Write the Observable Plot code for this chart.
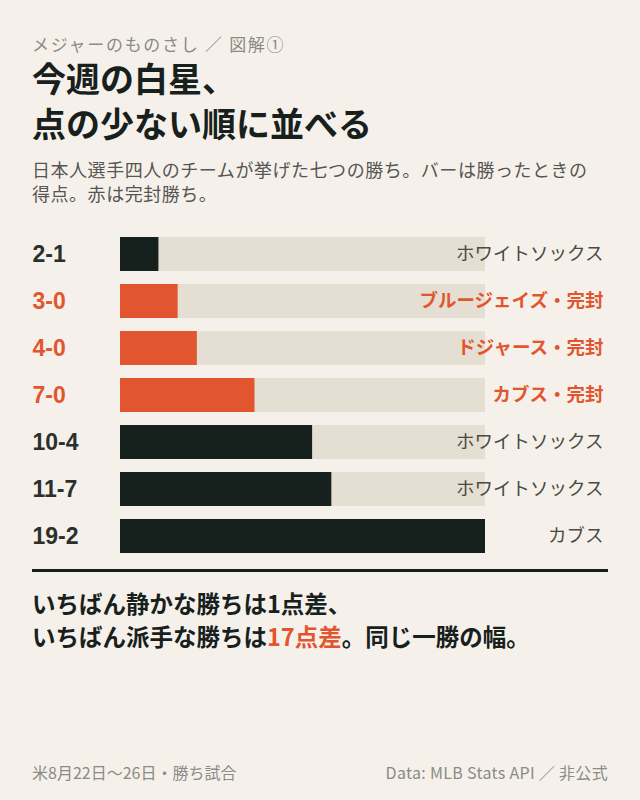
<!DOCTYPE html>
<html><head><meta charset="utf-8">
<script src="https://cdn.jsdelivr.net/npm/d3@7"></script>
<script src="https://cdn.jsdelivr.net/npm/@observablehq/plot@0.6"></script>
<style>
html,body{margin:0;padding:0;background:#f5f1ea;}
#page{position:relative;width:640px;height:800px;background:#f5f1ea;font-family:"Noto Sans CJK JP","Noto Sans",sans-serif;overflow:hidden;}
.abs{position:absolute;left:32px;white-space:nowrap;}
#eyebrow{top:34px;font-size:17px;line-height:20px;color:#8a8a86;letter-spacing:0.1em;}
#title{top:55px;font-size:34px;line-height:45px;font-weight:700;color:#17201c;}
#sub{top:157px;font-size:18px;line-height:24px;color:#555;letter-spacing:0.03em;}
#chart{position:absolute;left:0;top:235px;}
#rule{position:absolute;left:32px;width:576px;top:569px;height:3px;background:#17201c;}
#note{top:587px;font-size:23.5px;line-height:33px;font-weight:700;color:#17201c;}
#note .hl{color:#e2562f;}
#footL{top:761px;font-size:16px;line-height:22px;color:#8a8a86;}
#footR{top:761px;left:auto;right:32px;font-size:16px;line-height:22px;color:#8a8a86;letter-spacing:0.02em;}
</style></head>
<body><div id="page">
<div class="abs" id="eyebrow">メジャーのものさし ／ 図解①</div>
<div class="abs" id="title">今週の白星、<br>点の少ない順に並べる</div>
<div class="abs" id="sub">日本人選手四人のチームが挙げた七つの勝ち。バーは勝ったときの<br>得点。赤は完封勝ち。</div>
<div id="chart"></div>
<div id="rule"></div>
<div class="abs" id="note">いちばん静かな勝ちは1点差、<br>いちばん派手な勝ちは<span class="hl">17点差</span>。同じ一勝の幅。</div>
<div class="abs" id="footL">米8月22日～26日・勝ち試合</div>
<div class="abs" id="footR">Data: MLB Stats API ／ 非公式</div>
</div>
<script>
const scores = ["2-1","3-0","4-0","7-0","10-4","11-7","19-2"];
const runsFor = [2,3,4,7,10,11,19];
const runsAgainst = [1,0,0,0,4,7,2];
const opponents = ["ホワイトソックス","ブルージェイズ","ドジャース","カブス","ホワイトソックス","ホワイトソックス","カブス"];

const RED = "#e2562f", DARK = "#16201c", TRACK = "#e4ded3";
const maxRuns = d3.max(runsFor);
const data = scores.map((s,i)=>({
  score:s, runs:runsFor[i], allowed:runsAgainst[i],
  shutout: runsAgainst[i]===0,
  label: runsAgainst[i]===0 ? opponents[i]+"・完封" : opponents[i]
}));

const chart = Plot.plot({
  width:640, height:320,
  marginLeft:120, marginRight:155, marginTop:0, marginBottom:0,
  x:{domain:[0,maxRuns], axis:null},
  y:{domain:scores, axis:null, paddingInner:0.284, paddingOuter:0},
  color:{type:"identity"},
  style:{background:"transparent", overflow:"visible"},
  marks:[
    Plot.barX(data,{y:"score", x1:0, x2:maxRuns, fill:TRACK}),
    Plot.barX(data,{y:"score", x1:0, x2:"runs", fill:d=>d.shutout?RED:DARK}),
    Plot.text(data,{y:"score", text:"score", frameAnchor:"left", dx:-88, textAnchor:"start",
      fill:d=>d.shutout?RED:"#2b302d", fontWeight:"bold", fontSize:23, fontFamily:"Liberation Sans, Arial, sans-serif"}),
    Plot.text(data.filter(d=>!d.shutout),{y:"score", text:"label", frameAnchor:"right", dx:118, textAnchor:"end",
      fill:"#4a4a46", fontSize:18.5, fontFamily:"Noto Sans CJK JP, sans-serif"}),
    Plot.text(data.filter(d=>d.shutout),{y:"score", text:"label", frameAnchor:"right", dx:118, textAnchor:"end",
      fill:RED, fontWeight:"bold", fontSize:18.5, fontFamily:"Noto Sans CJK JP, sans-serif"})
  ]
});
document.getElementById("chart").appendChild(chart);
</script>
</body></html>
